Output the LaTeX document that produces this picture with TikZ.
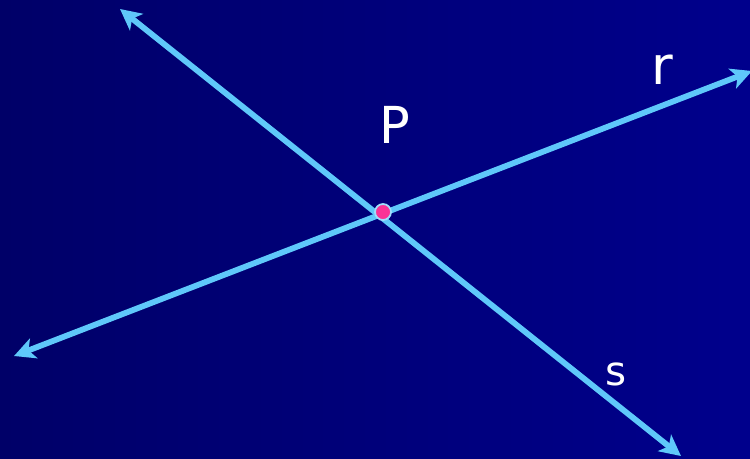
\documentclass[tikz,border=0pt]{standalone}
\usepackage{fontspec}
\setmainfont{DejaVu Sans}
\usepackage{tikz}
\usetikzlibrary{arrows.meta,positioning}

\definecolor{bgleft}{RGB}{0,0,104}
\definecolor{bgright}{RGB}{0,0,140}
\definecolor{lineblue}{RGB}{95,200,250}
\definecolor{dotpink}{RGB}{250,50,150}

\begin{document}
\begin{tikzpicture}[
  x=0.2mm, y=-0.2mm,
  ln/.style={draw=lineblue, line width=3.3pt,
             {Stealth[length=4.2mm, width=4.2mm, inset=1.1mm]}-{Stealth[length=4.2mm, width=4.2mm, inset=1.1mm]}},
  pt/.style={circle, fill=dotpink, draw=lineblue!60!white, line width=1pt,
             inner sep=0pt, minimum size=3.2mm},
  lbl/.style={text=white, inner sep=0pt}
]
% Background
\shade[left color=bgleft, right color=bgright] (0,0) rectangle (750,458);
\useasboundingbox (0,0) rectangle (750,458);

% End points of the two lines
\coordinate (rA) at (14,356);
\coordinate (rB) at (752,71);
\coordinate (sA) at (120,9);
\coordinate (sB) at (681,456);

% Lines r and s
\draw[ln] (rA) -- (rB);
\draw[ln] (sA) -- (sB);

% Intersection point
\node[pt] (P) at (383,212) {};

% Labels
\node[lbl, font=\fontsize{29}{30}\selectfont] (labP) at (394.5,125) {P};
\node[lbl, font=\fontsize{30}{31}\selectfont] (labr) at (662,70) {r};
\node[lbl, font=\fontsize{23}{24}\selectfont] (labs) at (616,374) {s};
\end{tikzpicture}
\end{document}
